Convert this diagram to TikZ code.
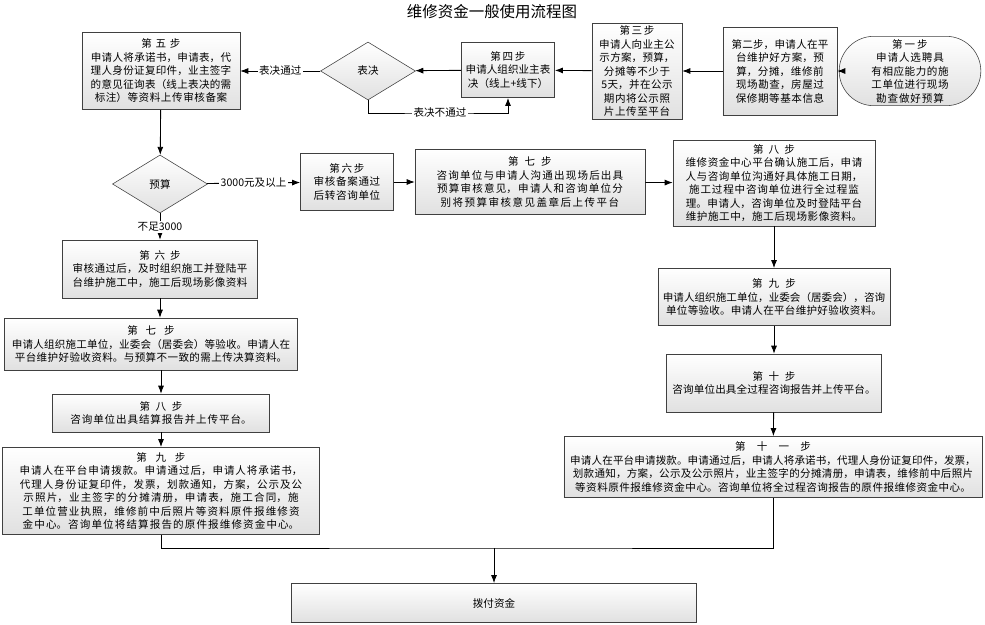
\documentclass[tikz,border=0pt]{standalone}
\usepackage{fontspec}
\setmainfont{Noto Sans CJK SC}
\XeTeXlinebreaklocale "zh"
\XeTeXlinebreakskip=0pt plus 1pt
\usetikzlibrary{arrows.meta,positioning,shapes.geometric,shapes.misc}
\begin{document}
\begin{tikzpicture}[x=0.025cm, y=-0.025cm,
		font=\fontsize{7.5}{9.6}\selectfont,
		block/.style={rectangle, draw=black!75, top color=white, bottom color=black!12, align=center, inner sep=2pt},
		round/.style={block, rounded rectangle},
		decision/.style={diamond, draw=black!75, top color=white, bottom color=black!12, aspect=1.64, inner sep=1pt, minimum width=2.375cm, minimum height=1.45cm},
		line/.style={draw, -Latex, semithick},
		plain/.style={draw, semithick},
		lbl/.style={fill=white, inner sep=1pt}]
		\useasboundingbox (0,0) rectangle (985,624);
		% Title
		\node [font=\fontsize{11}{13}\selectfont] (title) at (492,12) {维修资金一般使用流程图};

		% Nodes, top row
		\node [round, minimum width=2.75cm, minimum height=1.45cm, text width=2.35cm] (s1) at (910,71) {第一步\\申请人选聘具有相应能力的施工单位进行现场勘查做好预算};
		\node [block, minimum width=2.85cm, minimum height=2.2cm, text width=2.65cm] (s2) at (780,71) {第二步，申请人在平台维护好方案，预算，分摊，维修前现场勘查，房屋过保修期等基本信息};
		\node [block, minimum width=2.25cm, minimum height=2.3cm, text width=2.1cm] (s3) at (637,71) {第三步\\申请人向业主公示方案，预算，分摊等不少于5天，并在公示期内将公示照片上传至平台};
		\node [block, minimum width=2.33cm, minimum height=1.38cm, text width=2.15cm] (s4) at (508,70) {第四步\\申请人组织业主表决（线上+线下）};
		\node [decision] (vote) at (368,71) {表决};
		\node [block, minimum width=3.95cm, minimum height=1.93cm, text width=3.75cm] (s5) at (161,71) {第五步\\申请人将承诺书，申请表，代理人身份证复印件，业主签字的意见征询表（线上表决的需标注）等资料上传审核备案};

		% Nodes, budget branch
		\node [decision] (budget) at (160,184) {预算};
		\node [block, minimum width=2.33cm, minimum height=1.43cm, text width=2.15cm] (r6) at (347,182) {第六步\\审核备案通过后转咨询单位};
		\node [block, minimum width=5.75cm, minimum height=1.63cm, text width=5.55cm] (r7) at (530,182) {第七步\\咨询单位与申请人沟通出现场后出具预算审核意见，申请人和咨询单位分别将预算审核意见盖章后上传平台};
		\node [block, minimum width=5.05cm, minimum height=2.15cm, text width=4.85cm] (r8) at (774,183) {第八步\\维修资金中心平台确认施工后，申请人与咨询单位沟通好具体施工日期，施工过程中咨询单位进行全过程监理。申请人，咨询单位及时登陆平台维护施工中，施工后现场影像资料。};
		\node [block, minimum width=5.8cm, minimum height=1.43cm, text width=5.6cm] (r9) at (774,297) {第九步\\申请人组织施工单位，业委会（居委会），咨询单位等验收。申请人在平台维护好验收资料。};
		\node [block, minimum width=5.38cm, minimum height=1.45cm, text width=5.2cm] (r10) at (774,383) {第十步\\咨询单位出具全过程咨询报告并上传平台。};
		\node [block, minimum width=10.45cm, minimum height=1.53cm, text width=10.25cm] (r11) at (773,467) {第十一步\\申请人在平台申请拨款。申请通过后，申请人将承诺书，代理人身份证复印件，发票，划款通知，方案，公示及公示照片，业主签字的分摊清册，申请表，维修前中后照片等资料原件报维修资金中心。咨询单位将全过程咨询报告的原件报维修资金中心。};

		\node [block, minimum width=4.88cm, minimum height=1.45cm, text width=4.7cm] (l6) at (160,269) {第六步\\审核通过后，及时组织施工并登陆平台维护施工中，施工后现场影像资料};
		\node [block, minimum width=7.33cm, minimum height=1.3cm, text width=7.1cm] (l7) at (151,344) {第七步\\申请人组织施工单位，业委会（居委会）等验收。申请人在平台维护好验收资料。与预算不一致的需上传决算资料。};
		\node [block, minimum width=5.43cm, minimum height=0.95cm, text width=5.2cm] (l8) at (161,413) {第八步\\咨询单位出具结算报告并上传平台。};
		\node [block, minimum width=7.93cm, minimum height=2.18cm, text width=7.75cm] (l9) at (161,491) {第九步\\申请人在平台申请拨款。申请通过后，申请人将承诺书，代理人身份证复印件，发票，划款通知，方案，公示及公示照片，业主签字的分摊清册，申请表，施工合同，施工单位营业执照，维修前中后照片等资料原件报维修资金中心。咨询单位将结算报告的原件报维修资金中心。};
		\node [block, minimum width=10.13cm, minimum height=0.98cm] (pay) at (494,603) {拨付资金};
		\coordinate (join) at (494,548);

		% Paths
		\path [line] (s1) -- (s2);
		\path [line] (s2) -- (s3);
		\path [line] (s3) -- (s4);
		\path [line] (s4) -- (vote);
		\path [line] (vote) -- node [lbl] {表决通过} (s5);
		\path [line] (vote.south) |- (440,113) node [lbl] {表决不通过} -| (s4.south);
		\path [line] (s5) -- (budget);
		\path [line] (budget) -- node [lbl] {3000元及以上} (r6);
		\path [line] (r6) -- (r7);
		\path [line] (r7) -- (r8);
		\path [line] (r8) -- (r9);
		\path [line] (r9) -- (r10);
		\path [line] (r10) -- (r11);
		\path [line] (budget) -- node [lbl] {不足3000} (l6);
		\path [line] (l6.south) -- (l6.south |- l7.north);
		\path [line] (l8.north |- l7.south) -- (l8.north);
		\path [line] (l8) -- (l9);
		\path [plain] (l9.south) |- (join) -| (r11.south);
		\path [line] (join) -- (pay);
	\end{tikzpicture}
\end{document}
